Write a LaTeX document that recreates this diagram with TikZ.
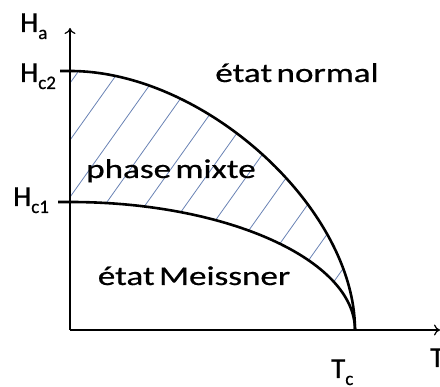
\documentclass[tikz,border=0pt]{standalone}
\usepackage{fontspec}
\setmainfont{Carlito}[FakeBold=0.6,WordSpace=0.55]
\usetikzlibrary{arrows.meta}
\definecolor{hatchc}{RGB}{105,130,180}
\newcommand\sublbl[2]{#1\raisebox{-7pt}{\fontsize{19}{19}\selectfont #2}}
\tikzset{
  axis/.style={line width=1.2pt, -{To[length=6pt,width=11pt]}},
  curve/.style={line width=2.6pt},
  hatch/.style={hatchc, line width=0.8pt},
  body/.style={font=\fontsize{27}{27}\selectfont, inner sep=0pt, anchor=base, xscale=1.3, transform shape},
  lab/.style={font=\fontsize{29}{29}\selectfont, inner sep=0pt, anchor=base west},
}
\begin{document}
\begin{tikzpicture}[x=1pt,y=1pt]
\useasboundingbox (0,0) rectangle (440,387);
% key points
\coordinate (O) at (70,57);
\coordinate (Yt) at (70,359);
\coordinate (Xt) at (440,57);
\coordinate (Hc2) at (70,316);
\coordinate (Hc1) at (70,185);
\coordinate (Tc) at (355,57);
\coordinate (t2) at (60,316);
\coordinate (t1) at (58,185);
% hatching
\begin{scope}
\clip (Hc2) .. controls (204,316) and (355,179) .. (Tc)
      .. controls (355,127) and (227,185) .. (Hc1) -- cycle;
\foreach \c in {-146,-105.5,...,330}{
  \draw[hatch] (\c,57) -- ++(213.3,300);
}
\end{scope}
% axes
\draw[axis] (O) -- (Yt);
\draw[axis] (O) -- (Xt);
% curves
\draw[curve] (t2) -- (Hc2) .. controls (204,316) and (355,179) .. (Tc);
\draw[curve] (t1) -- (Hc1) .. controls (227,185) and (355,127) .. (Tc);
% labels
\node[lab] (la) at (20,355) {\sublbl{H}{a}};
\node[lab] (lc2) at (20,305) {\sublbl{H}{c2}};
\node[lab] (lc1) at (13,181) {\sublbl{H}{c1}};
\node[lab] (ltc) at (331,9) {\sublbl{T}{c}};
\node[lab] (lt) at (430,20) {T};
\node[body] (n1) at (297,305) {état normal};
\node[body] (n2) at (171,209) {phase mixte};
\node[body] (n3) at (194,102) {état Meissner};
\end{tikzpicture}
\end{document}
